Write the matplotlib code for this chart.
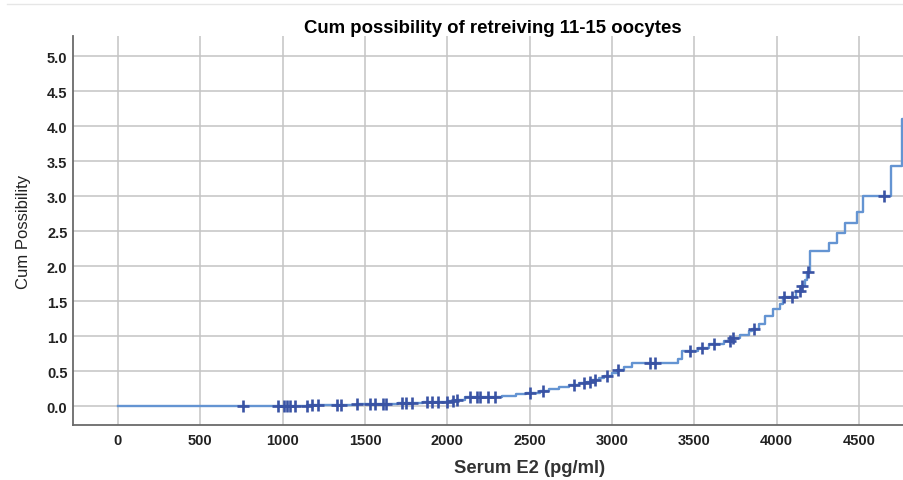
import numpy as np
import matplotlib
matplotlib.use("Agg")
import matplotlib.pyplot as plt
from matplotlib.lines import Line2D

plt.rcParams['font.family'] = ['Liberation Sans', 'DejaVu Sans']

# Event times (Serum E2, pg/ml) and cumulative value after each event
event_e2 = [0, 1000, 1150, 1300, 1450, 1600, 1700, 1850, 2000, 2050, 2107,
            2330, 2420, 2480, 2560, 2620, 2680, 2740, 2800, 2850, 2880,
            2920, 2950, 3000, 3030, 3070, 3120, 3400, 3425, 3520, 3590,
            3680, 3725, 3780, 3830, 3850, 3890, 3930, 3975, 4020, 4040,
            4120, 4150, 4170, 4185, 4200, 4318, 4366, 4415, 4488, 4524,
            4694, 4761]
cum_value = [0.0, 0.006, 0.012, 0.020, 0.028, 0.036, 0.048, 0.056, 0.07,
             0.09, 0.13, 0.15, 0.17, 0.19, 0.21, 0.24, 0.27, 0.30, 0.33,
             0.35, 0.37, 0.40, 0.43, 0.47, 0.51, 0.56, 0.62, 0.67, 0.79,
             0.83, 0.88, 0.93, 0.97, 1.02, 1.07, 1.10, 1.17, 1.29, 1.39,
             1.46, 1.56, 1.64, 1.71, 1.80, 1.91, 2.21, 2.33, 2.47, 2.61,
             2.77, 3.00, 3.43, 4.10]

# Censored observations
censored_e2 = [759, 972, 1008, 1026, 1045, 1075, 1148, 1178, 1215, 1330,
               1354, 1451, 1530, 1561, 1609, 1627, 1725, 1749, 1785, 1876,
               1907, 1943, 1998, 2034, 2058, 2138, 2180, 2198, 2247, 2289,
               2502, 2581, 2769, 2830, 2866, 2897, 2970, 3036, 3231, 3261,
               3473, 3547, 3620, 3716, 3735, 3862, 4044, 4093, 4142, 4154,
               4190, 4652]

x_ticks = [0, 500, 1000, 1500, 2000, 2500, 3000, 3500, 4000, 4500]
y_ticks = [0.0, 0.5, 1.0, 1.5, 2.0, 2.5, 3.0, 3.5, 4.0, 4.5, 5.0]

title = "Cum possibility of retreiving 11-15 oocytes"
x_label = "Serum E2 (pg/ml)"
y_label = "Cum Possibility"

fig = plt.figure(figsize=(9.04, 4.81), dpi=100)
ax = fig.add_axes([73 / 904, 55 / 481, 831 / 904, 389 / 481])

ax.set_xlim(-273, 4773)
ax.set_ylim(-0.271, 5.286)

ax.set_xticks(x_ticks)
ax.set_yticks(y_ticks)
ax.set_xticklabels([str(v) for v in x_ticks])
ax.set_yticklabels([f"{v:.1f}" for v in y_ticks])
ax.tick_params(length=0, labelsize=10.5)
ax.tick_params(axis='x', pad=6)
ax.tick_params(axis='y', pad=4)
for lbl in ax.get_xticklabels() + ax.get_yticklabels():
    lbl.set_fontweight('bold')
    lbl.set_color('#222222')

ax.grid(True, color='#c4c4c4', linewidth=1.1)
ax.set_axisbelow(True)
for side in ('top', 'right'):
    ax.spines[side].set_visible(False)
for side in ('left', 'bottom'):
    ax.spines[side].set_color('#6a6a6a')
    ax.spines[side].set_linewidth(1.3)

ex = np.array(event_e2, dtype=float)
ey = np.array(cum_value, dtype=float)
ax.step(np.append(ex, 4800), np.append(ey, ey[-1]), where='post',
        color='#6494d2', linewidth=1.7, zorder=3)

cx = np.array(censored_e2, dtype=float)
idx = np.searchsorted(ex, cx, side='right') - 1
cy = ey[idx]
ax.plot(cx, cy, linestyle='none', marker='+', markersize=8.5,
        markeredgewidth=1.9, color='#3953a4', zorder=4)

ax.set_title(title, fontsize=13.4, fontweight='bold', x=0.505, y=1.0, pad=3)
ax.set_xlabel(x_label, fontsize=13.2, fontweight='bold', color='#333333')
ax.xaxis.set_label_coords(0.55, -0.088)
ax.set_ylabel(y_label, fontsize=12, color='#222222')
ax.yaxis.set_label_coords(-0.051, 0.5)

fig.add_artist(Line2D([7 / 904, 1.0], [1 - 5 / 481, 1 - 5 / 481],
                      color='#e6e6e6', linewidth=1))

fig.savefig("out.png", dpi=100)
